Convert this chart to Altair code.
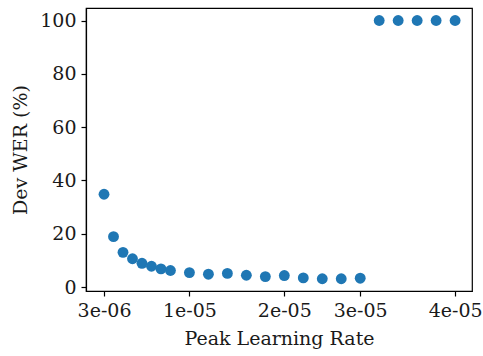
import altair as alt
import pandas as pd

# Peak learning rate (x) and dev WER (%) (y)
learning_rate = [3e-6, 4e-6, 5e-6, 6e-6, 7e-6, 8e-6, 9e-6, 10e-6,
                 12e-6, 14e-6, 16e-6, 18e-6, 20e-6, 22e-6, 24e-6, 26e-6, 28e-6, 30e-6,
                 32e-6, 34e-6, 36e-6, 38e-6, 40e-6]
dev_wer = [34.8, 18.9, 13.0, 10.6, 8.9, 7.8, 6.8, 6.2,
           5.4, 4.8, 5.1, 4.4, 3.9, 4.3, 3.4, 3.1, 3.1, 3.3,
           100, 100, 100, 100, 100]

# x tick positions and their labels as shown in the reference
x_tick_values = [3e-6, 12e-6, 22e-6, 30e-6, 40e-6]
x_tick_labels = ["3e-06", "1e-05", "2e-05", "3e-05", "4e-05"]
y_tick_values = [0, 20, 40, 60, 80, 100]

df = pd.DataFrame({"lr": learning_rate, "wer": dev_wer})

label_expr = " : ".join(
    f"abs(datum.value - {v}) < 1e-9 ? '{l}'" for v, l in zip(x_tick_values, x_tick_labels)
) + " : ''"

FONT = "DejaVu Serif"

chart = alt.Chart(df).mark_circle(size=118, color="#1f77b4", opacity=1).encode(
    x=alt.X("lr:Q",
            scale=alt.Scale(domain=[1.10e-6, 41.78e-6], nice=False, zero=False),
            axis=alt.Axis(values=x_tick_values, labelExpr=label_expr,
                          title="Peak Learning Rate", grid=False)),
    y=alt.Y("wer:Q",
            scale=alt.Scale(domain=[-1.5, 104.7], nice=False, zero=False),
            axis=alt.Axis(values=y_tick_values, title="Dev WER (%)", grid=False)),
).properties(
    width=386, height=283,
    autosize=alt.AutoSizeParams(type="none"),
    padding={"left": 86, "top": 8, "right": 11, "bottom": 65},
).configure_view(
    stroke="black", strokeWidth=1.2
).configure_axis(
    domainColor="black", domainWidth=1.2,
    tickColor="black", tickSize=5, tickWidth=1.2,
    labelFont=FONT, labelFontSize=19, labelColor="#1a1a1a",
    titleFont=FONT, titleFontSize=19, titleFontWeight="normal", titleColor="#1a1a1a",
    labelPadding=5, titlePadding=9,
)

chart.save("out.html", embed_options={"renderer": "svg", "actions": False})
